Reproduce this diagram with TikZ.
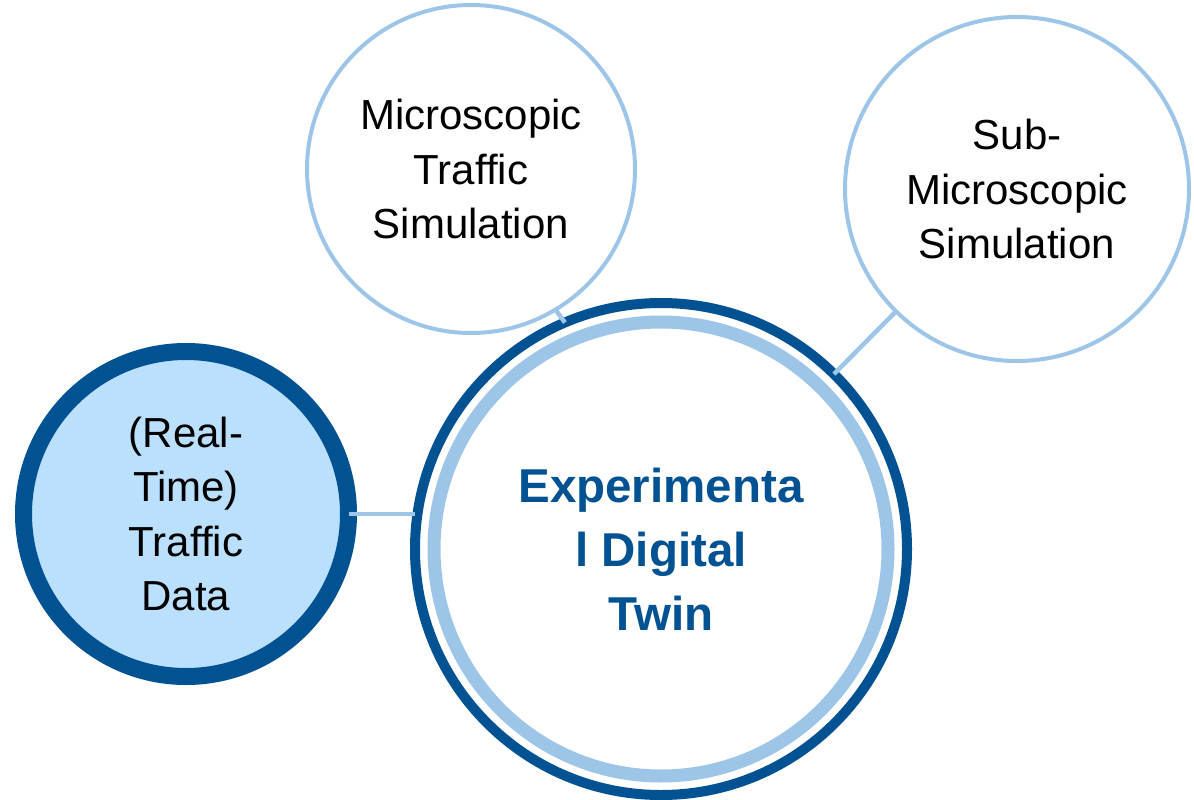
\documentclass[tikz,border=0pt]{standalone}
\usepackage{fontspec}
\setmainfont{Liberation Sans}
\definecolor{darkblue}{RGB}{0,82,147}
\definecolor{lightring}{RGB}{157,197,232}
\definecolor{lightfill}{RGB}{186,224,253}
\tikzset{
  bubble/.style={circle, outer sep=0pt, inner sep=0pt, align=center, font=\fontsize{42}{54.5}\selectfont, text=black},
  thinbubble/.style={bubble, draw=lightring, line width=4pt, fill=white},
  link/.style={draw=lightring, line width=4.5pt}
}
\begin{document}
\begin{tikzpicture}[x=1pt,y=-1pt]
\useasboundingbox (0,0) rectangle (1194,800);
\fill[white] (0,0) rectangle (1194,800);
\node[thinbubble, minimum size=328pt] (top) at (471,169) {Microscopic\\Traffic\\Simulation};
\node[thinbubble, minimum size=344pt] (right) at (1017,189) {Sub-\\Microscopic\\Simulation};
\node[bubble, draw=darkblue, line width=17pt, fill=lightfill, minimum size=325pt] (left) at (186,514) {(Real-\\Time)\\Traffic\\Data};
\node[bubble, draw=darkblue, line width=10pt, fill=white, minimum size=492pt, text=darkblue,
      font=\fontsize{47.5}{64}\selectfont\bfseries] (main) at (661,549) {Experimenta\\l Digital\\Twin};
\draw[lightring, line width=13pt] (main.center) circle[radius=227pt];
\draw[link] (left.east) -- (left.east -| main.west);
\draw[link] (top.-59) -- (main.113);
\draw[link] (right) -- (main);
\end{tikzpicture}
\end{document}
